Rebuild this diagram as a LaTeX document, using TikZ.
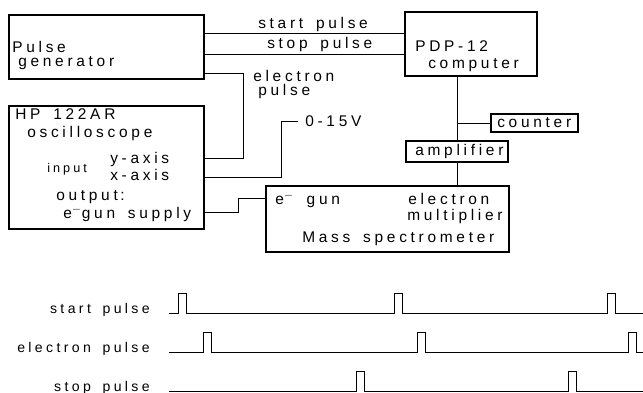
\documentclass[tikz,border=0pt]{standalone}
\usepackage{fontspec}
\setmainfont{Liberation Sans}[LetterSpace=24, WordSpace=1.6]
\usetikzlibrary{fit}

\begin{document}
\begin{tikzpicture}[x=0.025cm, y=-0.025cm, font=\fontsize{11}{13}\selectfont,
  box/.style={draw, line width=0.8pt, inner sep=0pt},
  wire/.style={line width=0.7pt},
  lbl/.style={anchor=base west, inner sep=0pt},
  tlbl/.style={anchor=base east, inner sep=0pt, font=\fontsize{10}{12}\selectfont}]
  \useasboundingbox (0,0) rectangle (643,393);

  %% Boxes
  \node[box, fit={(9,15) (204,79)}]    (pg)  {};
  \node[box, fit={(9,106) (204,229)}]  (osc) {};
  \node[box, fit={(405,12) (537,76)}]  (pdp) {};
  \node[box, fit={(491,114) (578,132)}] (cnt) {};
  \node[box, fit={(406,141) (508,162)}] (amp) {};
  \node[box, fit={(266,186) (509,252)}] (ms)  {};

  %% Texts
  \foreach \nm/\x/\y/\txt in {
    pgA/12/53/{Pulse}, pgB/18/67/{generator},
    oscA/15/120/{HP 122AR}, oscB/27/138/{oscilloscope},
    oscY/110/163/{y-axis}, oscX/110/180/{x-axis},
    oscO/56/200/{output\,:}, oscE/63/218/{e\smash{$^-$}gun supply},
    pdpA/415/52/{PDP-12}, pdpB/428/69/{computer},
    cntA/497/128/{counter}, ampA/415/156/{amplifier},
    msG/275/204/{e\smash{$^-$} gun}, msA/408/204/{electron},
    msB/407/220/{multiplier}, msC/302/242/{Mass spectrometer},
    wSt/258/29/{start pulse}, wSp/267/49/{stop pulse},
    wEa/253/82/{electron}, wEb/258/96/{pulse},
    v015/305/127/{0-15V}}{
    \node[lbl] (\nm) at (\x,\y) {\txt};
  }
  \node[lbl, font=\fontsize{9}{11}\selectfont] (oscI) at (47,173) {input};

  %% Wires
  \draw[wire] (pg.east |- 0,33) -- (pdp.west |- 0,33);
  \draw[wire] (pg.east |- 0,54) -- (pdp.west |- 0,54);
  \draw[wire] (pg.east |- 0,73) -- (243,73) |- (osc.east |- 0,158);
  \draw[wire] (osc.east |- 0,177) -| (v015.west -| 281,0) -- ([xshift=-5pt]v015.west);
  \draw[wire] (osc.east |- 0,212) -- (238,212) |- (ms.west |- 0,198);
  \draw[wire] (amp.north |- pdp.south) -- (amp.north);
  \draw[wire] (amp.north |- cnt.west) -- (cnt.west);
  \draw[wire] (amp.south) -- (amp.south |- ms.north);

  %% Timing diagram
  \foreach \nm/\txt/\y/\plist in {
    tSt/{start pulse}/313/{178,394,607},
    tEl/{electron pulse}/352/{203,417,628},
    tSp/{stop pulse}/391/{356,568}}{
    \node[tlbl] (\nm) at (150,\y) {\txt};
    \draw[wire] (169,\y) foreach \p in \plist {
      -- (\p,\y) -- ++(0,-20) -- ++(8,0) -- ++(0,20) } -- (643,\y);
  }
\end{tikzpicture}
\end{document}
